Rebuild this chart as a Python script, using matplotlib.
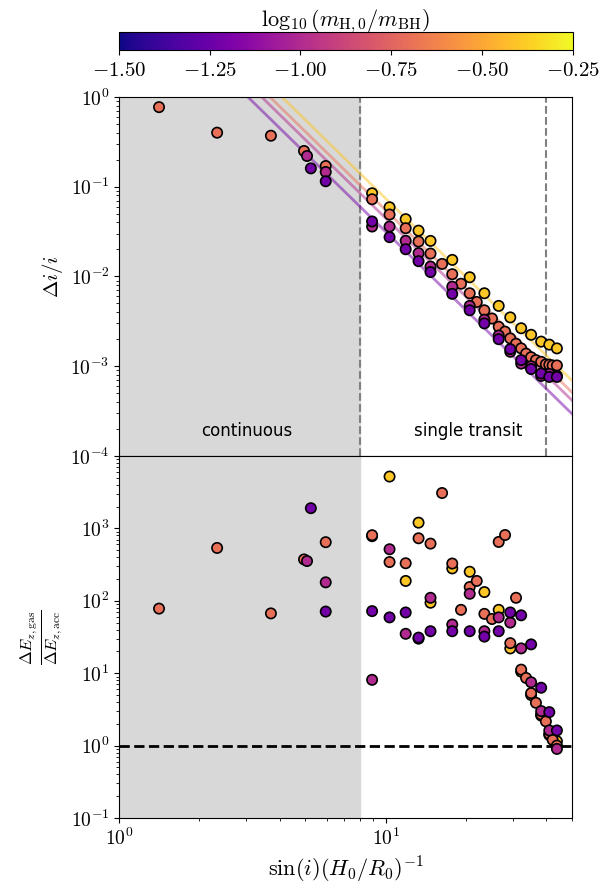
import numpy as np
import matplotlib
matplotlib.use('Agg')
import matplotlib.pyplot as plt
from matplotlib.colors import Normalize
from matplotlib.ticker import FuncFormatter

plt.rcParams['mathtext.fontset'] = 'cm'
plt.rcParams['font.size'] = 12

# log10(m_H0/m_BH) of each series
mass_purple = -1.22
mass_magenta = -1.0
mass_orange = -0.7
mass_yellow = -0.4

# purple series
x_purple = [5.24, 5.96, 8.9, 10.35, 11.9, 13.3, 14.75, 17.8, 20.7, 23.5, 26.6, 29.4, 32.3, 35.2, 38.4, 41.2, 44.0]
di_purple = [0.16, 0.115, 0.041, 0.0274, 0.0201, 0.0148, 0.0112, 0.0064, 0.0042, 0.003, 0.002, 0.00155, 0.00117, 0.00093, 0.00083, 0.00076, 0.00076]
de_purple = [1900, 71, 72, 59, 69, 31, 38, 38, 38, 32, 38, 69, 63, 25, 6.3, 2.9, 1.62]

# magenta series
x_magenta = [5.07, 5.96, 8.9, 10.35, 11.9, 13.3, 14.75, 17.8, 20.7, 23.5, 26.6, 29.4, 32.3, 35.2, 38.4, 41.2, 44.0]
di_magenta = [0.22, 0.146, 0.036, 0.036, 0.025, 0.0182, 0.0129, 0.0077, 0.0047, 0.0033, 0.0022, 0.00145, 0.00107, 0.001, 0.00078, 0.00082, 0.00078]
de_magenta = [354, 180, 8.1, 515, 35, 30, 110, 47, 125, 38, 59, 50, 22, 7.5, 3.0, 1.62, 0.9]

# orange series
x_orange = [1.41, 2.33, 3.71, 4.94, 5.96, 8.9, 10.35, 11.9, 13.3, 14.75, 16.3, 17.8, 19.2, 20.7, 22.0,
            23.5, 25.1, 26.6, 28.1, 29.4, 30.9, 32.3, 33.7, 35.2, 36.7, 38.4, 40.0, 41.2, 42.4, 44.0]
di_orange = [0.77, 0.40, 0.37, 0.25, 0.17, 0.0725, 0.049, 0.0345, 0.0245, 0.018, 0.0138, 0.0106, 0.0083, 0.0065, 0.0052,
             0.0042, 0.0034, 0.00275, 0.00243, 0.00204, 0.00178, 0.00158, 0.00138, 0.00126, 0.00117, 0.00112, 0.00105, 0.00104, 0.00102, 0.00102]
de_orange = [78, 537, 67, 373, 645, 805, 343, 330, 730, 616, 3080, 327, 75, 155, 188,
             66, 56, 650, 810, 26, 110, 11.2, 8.6, 5.3, 3.9, 2.7, 2.16, 1.45, 1.2, 1.0]

# yellow series
x_yellow = [8.9, 10.35, 11.9, 13.3, 14.75, 17.8, 20.7, 23.5, 26.6, 29.4, 32.3, 35.2, 38.4, 41.2, 44.0]
di_yellow = [0.0845, 0.059, 0.0435, 0.0324, 0.0249, 0.0153, 0.0098, 0.0065, 0.0047, 0.0035, 0.00265, 0.00224, 0.00188, 0.00174, 0.00158]
de_yellow = [780, 5200, 188, 1200, 94, 280, 252, 132, 75, 22, 10.5, 5.0, 2.6, 1.4, 1.15]

# power-law guide lines: log10 amplitude per series, common slope
line_masses = [mass_purple, mass_magenta, mass_orange, mass_yellow]
line_logamp = [1.40, 1.55, 1.64, 1.77]
line_slope = -2.9

x_split = 8.0
x_single_end = 40.0
xlim = (1, 50)

cbar_ticks = [-1.5, -1.25, -1.0, -0.75, -0.5, -0.25]

cmap = plt.get_cmap('plasma')
norm = Normalize(vmin=-1.5, vmax=-0.25)

def pow10(v, pos):
    return r'$10^{%d}$' % int(round(np.log10(v)))

fig = plt.figure(figsize=(6.14, 8.83), dpi=100)
ax1 = fig.add_axes([0.1943, 0.4836, 0.7368, 0.4066])
ax2 = fig.add_axes([0.1943, 0.0736, 0.7368, 0.4100], sharex=ax1)
cax = fig.add_axes([0.1938, 0.9434, 0.739, 0.0204])

series = [(x_yellow, di_yellow, de_yellow, mass_yellow),
          (x_orange, di_orange, de_orange, mass_orange),
          (x_magenta, di_magenta, de_magenta, mass_magenta),
          (x_purple, di_purple, de_purple, mass_purple)]

# top panel
ax1.axvspan(xlim[0], x_split, color='#d8d8d8', zorder=0)
ax1.axvline(x_split, color='gray', ls='--', lw=1.5)
ax1.axvline(x_single_end, color='gray', ls='--', lw=1.5)
xx = np.logspace(0, np.log10(xlim[1]), 50)
for m, a in zip(line_masses, line_logamp):
    ax1.plot(xx, 10**a * xx**line_slope, color=cmap(norm(m)), alpha=0.5, lw=2)
for xs, di, de, m in series:
    sc = ax1.scatter(xs, di, c=[m]*len(xs), cmap=cmap, norm=norm, s=55, edgecolors='k', linewidths=1.2, zorder=3)
ax1.set_xscale('log')
ax1.set_yscale('log')
ax1.set_xlim(xlim)
ax1.set_ylim(1e-4, 1)
ax1.yaxis.set_major_formatter(FuncFormatter(pow10))
ax1.set_ylabel(r'$\Delta i/i$', fontsize=15)
ax1.text(3.0, 1.9e-4, 'continuous', ha='center', va='center', fontsize=12)
ax1.text(20.5, 1.9e-4, 'single transit', ha='center', va='center', fontsize=12)
plt.setp(ax1.get_xticklabels(), visible=False)

# bottom panel
ax2.axvspan(xlim[0], x_split, color='#d8d8d8', zorder=0)
ax2.axhline(1, color='k', ls='--', lw=2)
for xs, di, de, m in series:
    ax2.scatter(xs, de, c=[m]*len(xs), cmap=cmap, norm=norm, s=55, edgecolors='k', linewidths=1.2, zorder=3)
ax2.set_yscale('log')
ax2.set_ylim(1e-1, 1e4)
ax2.set_yticks([1e-1, 1, 10, 100, 1e3])
ax2.set_xlim(xlim)
ax2.yaxis.set_major_formatter(FuncFormatter(pow10))
ax2.xaxis.set_major_formatter(FuncFormatter(pow10))
ax2.tick_params(labelsize=14)
ax1.tick_params(labelsize=14)
ax2.set_ylabel(r'$\frac{\Delta E_{z,\rm gas}}{\Delta E_{z,\rm acc}}$', fontsize=17)
ax2.set_xlabel(r'$\sin(i)(H_0/R_0)^{-1}$', fontsize=16)

# colorbar
cb = fig.colorbar(sc, cax=cax, orientation='horizontal')
cb.set_ticks(cbar_ticks)
cb.set_ticklabels([r'$%.2f$' % t for t in cbar_ticks])
cb.ax.tick_params(labelsize=15)
cb.set_label(r'$\log_{10}(m_{\rm H,0}/m_{\rm BH})$', fontsize=16)
cax.xaxis.set_label_position('top')

fig.savefig('out.png', dpi=100)
